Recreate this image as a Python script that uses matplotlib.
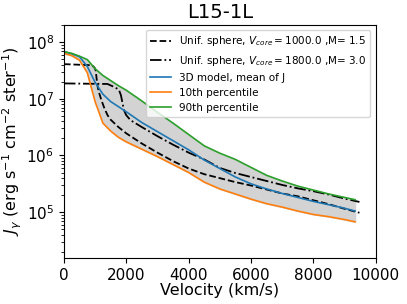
import numpy as np
import matplotlib
matplotlib.use("Agg")
import matplotlib.pyplot as plt

# 3D model (mean and percentiles), log10 of J
v_model = [0, 250, 500, 750, 1000, 1250, 1500, 1750, 2000, 2500, 3000, 3500, 4000,
           4500, 5000, 5500, 6000, 6500, 7000, 7500, 8000, 8500, 9000, 9340]
logj_mean = [7.83, 7.79, 7.74, 7.57, 7.29, 7.08, 6.95, 6.86, 6.77, 6.58, 6.42, 6.26, 6.10,
             5.92, 5.77, 5.62, 5.50, 5.41, 5.33, 5.26, 5.19, 5.13, 5.07, 5.02]
logj_p10 = [7.80, 7.76, 7.68, 7.46, 6.95, 6.57, 6.43, 6.32, 6.24, 6.11, 5.98, 5.84, 5.70,
            5.53, 5.41, 5.32, 5.23, 5.15, 5.09, 5.02, 4.96, 4.92, 4.87, 4.83]
logj_p90 = [7.83, 7.80, 7.75, 7.69, 7.53, 7.41, 7.32, 7.23, 7.15, 6.96, 6.76, 6.57, 6.37,
            6.17, 6.04, 5.93, 5.79, 5.65, 5.55, 5.46, 5.39, 5.32, 5.26, 5.22]

# uniform sphere, Vcore = 1000, M = 1.5
v_us1 = [0, 900, 980, 1020, 1050, 1080, 1120, 1200, 1300, 1400, 1500, 1750, 2000, 2500,
         3000, 3500, 4000, 4500, 5000, 5500, 6000, 6500, 7000, 7500, 8000, 8500, 9000, 9480]
logj_us1 = [7.61, 7.59, 7.55, 7.50, 7.35, 7.22, 7.12, 6.98, 6.83, 6.71, 6.63, 6.50, 6.39, 6.21,
            6.05, 5.90, 5.77, 5.67, 5.60, 5.53, 5.47, 5.40, 5.33, 5.28, 5.21, 5.14, 5.06, 4.99]

# uniform sphere, Vcore = 1800, M = 3.0
v_us2 = [0, 1400, 1600, 1700, 1770, 1830, 1870, 1925, 2000, 2140, 2500, 3000, 3500, 4000,
         4500, 5000, 5500, 6000, 6500, 7000, 7500, 8000, 8500, 9000, 9480]
logj_us2 = [7.27, 7.26, 7.21, 7.18, 7.15, 7.06, 6.95, 6.80, 6.71, 6.62, 6.50, 6.34, 6.19, 6.05,
            5.93, 5.78, 5.69, 5.62, 5.55, 5.48, 5.42, 5.37, 5.31, 5.24, 5.18]

j_mean = 10 ** np.array(logj_mean)
j_p10 = 10 ** np.array(logj_p10)
j_p90 = 10 ** np.array(logj_p90)
j_us1 = 10 ** np.array(logj_us1)
j_us2 = 10 ** np.array(logj_us2)

fig = plt.figure(figsize=(4.07, 3.04), dpi=100)
ax = fig.add_axes([0.157, 0.151, 0.766, 0.767])

ax.plot(v_us1, j_us1, "k--", lw=1.3, label=r"Unif. sphere, $V_{core}=1000.0$ ,M= 1.5")
ax.plot(v_us2, j_us2, "k-.", lw=1.3, label=r"Unif. sphere, $V_{core}=1800.0$ ,M= 3.0")
ax.plot(v_model, j_mean, color="C0", lw=1.2, label="3D model, mean of J")
ax.plot(v_model, j_p10, color="C1", lw=1.2, label="10th percentile")
ax.plot(v_model, j_p90, color="C2", lw=1.2, label="90th percentile")
ax.fill_between(v_model, j_p10, j_p90, color="lightgray", zorder=0)

ax.set_yscale("log")
ax.set_xlim(0, 10000)
ax.set_ylim(1.55e4, 2e8)
ax.set_xticks([0, 2000, 4000, 6000, 8000, 10000])
ax.tick_params(labelsize=11)
ax.set_xlabel("Velocity (km/s)", fontsize=11.5, labelpad=0)
ax.set_ylabel(r"$J_\gamma$ (erg s$^{-1}$ cm$^{-2}$ ster$^{-1}$)", fontsize=11.5, labelpad=2)
ax.set_title("L15-1L", fontsize=14, pad=5)
ax.legend(loc="upper right", fontsize=7.5)

fig.savefig("out.png", dpi=100)
